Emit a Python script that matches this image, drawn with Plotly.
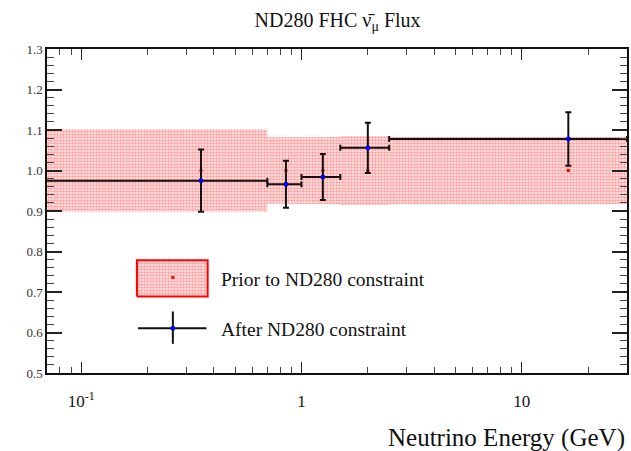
import plotly.graph_objects as go
import numpy as np

# ---------------- data ----------------
bin_edges = [0.0, 0.7, 1.0, 1.5, 2.5, 30.0]          # GeV
bin_centers = [0.35, 0.85, 1.25, 2.0, 16.25]        # GeV
prior_values = [1.0, 1.0, 1.0, 1.0, 1.0]
prior_errors = [0.102, 0.082, 0.083, 0.085, 0.083]
post_values = [0.975, 0.966, 0.984, 1.056, 1.078]
post_errors = [0.077, 0.058, 0.057, 0.062, 0.066]
x_tickvals = [0.1, 1, 10]
x_ticktext = ["10<sup>-1</sup>", "1", "10"]
y_tickvals = [0.5, 0.6, 0.7, 0.8, 0.9, 1.0, 1.1, 1.2, 1.3]
y_ticktext = ["0.5", "0.6", "0.7", "0.8", "0.9", "1.0", "1.1", "1.2", "1.3"]
title_text = "ND280 FHC ν\u0304<sub>μ</sub> Flux"
xlabel = "Neutrino Energy (GeV)"
legend_labels = ["Prior to ND280 constraint", "After ND280 constraint"]

SERIF = "Liberation Serif, Times New Roman, serif"
LOG_FLOOR = 0.01  # substitute for 0 on a log axis (clipped by range)

lo = [max(e, LOG_FLOOR) for e in bin_edges[:-1]]
hi = bin_edges[1:]

# band polygon (step shape)
bx, by_top, by_bot = [], [], []
for l, h, v, e in zip(lo, hi, prior_values, prior_errors):
    bx += [l, h]
    by_top += [v + e, v + e]
    by_bot += [v - e, v - e]
poly_x = bx + bx[::-1] + [bx[0]]
poly_y = by_top + by_bot[::-1] + [by_top[0]]

band_fill = dict(shape=".", fgcolor="rgba(255,0,0,0.7)", bgcolor="rgba(255,222,222,1)",
                 size=3, solidity=0.4)

fig = go.Figure()
fig.add_trace(go.Scatter(x=poly_x, y=poly_y, mode="lines", fill="toself",
                         line=dict(width=0, color="rgba(0,0,0,0)"),
                         fillcolor="rgba(255,180,180,1)", fillpattern=band_fill,
                         hoverinfo="skip", showlegend=False))
fig.add_trace(go.Scatter(x=bin_centers, y=prior_values, mode="markers",
                         marker=dict(color="red", size=3, symbol="square"),
                         showlegend=False))

xminus = [c - l for c, l in zip(bin_centers, lo)]
xplus = [h - c for c, h in zip(bin_centers, hi)]
fig.add_trace(go.Scatter(x=bin_centers, y=post_values, mode="markers",
                         marker=dict(color="blue", size=4, symbol="square"),
                         error_x=dict(type="data", symmetric=False, array=xplus,
                                      arrayminus=xminus, color="#111", thickness=2, width=3),
                         error_y=dict(type="data", array=post_errors, color="#111",
                                      thickness=2, width=3),
                         showlegend=False))

# ---- legend drawn in overlay axes (fractions of the plot area) ----
fig.add_trace(go.Scatter(x=[0.155, 0.277, 0.277, 0.155, 0.155],
                         y=[0.236, 0.236, 0.348, 0.348, 0.236],
                         mode="lines", fill="toself", line=dict(color="red", width=2),
                         fillcolor="rgba(255,180,180,1)", fillpattern=band_fill,
                         xaxis="x2", yaxis="y2", showlegend=False, hoverinfo="skip"))
fig.add_trace(go.Scatter(x=[0.217], y=[0.295], mode="markers",
                         marker=dict(color="red", size=3, symbol="square"),
                         xaxis="x2", yaxis="y2", showlegend=False))
fig.add_trace(go.Scatter(x=[0.157, 0.275], y=[0.138, 0.138], mode="lines",
                         line=dict(color="#111", width=2),
                         xaxis="x2", yaxis="y2", showlegend=False))
fig.add_trace(go.Scatter(x=[0.217, 0.217], y=[0.09, 0.19], mode="lines",
                         line=dict(color="#111", width=2),
                         xaxis="x2", yaxis="y2", showlegend=False))
fig.add_trace(go.Scatter(x=[0.217], y=[0.138], mode="markers",
                         marker=dict(color="blue", size=4, symbol="square"),
                         xaxis="x2", yaxis="y2", showlegend=False))
fig.add_annotation(text=legend_labels[0], x=0.296, y=0.29, xref="x2 domain", yref="y2 domain",
                   xanchor="left", yanchor="middle", showarrow=False,
                   font=dict(family=SERIF, size=19.5, color="#111"))
fig.add_annotation(text=legend_labels[1], x=0.296, y=0.135, xref="x2 domain", yref="y2 domain",
                   xanchor="left", yanchor="middle", showarrow=False,
                   font=dict(family=SERIF, size=19.5, color="#111"))

# axis title
fig.add_annotation(text=xlabel, x=1.0, y=-0.15, xref="paper", yref="paper",
                   xanchor="right", yanchor="top", showarrow=False,
                   font=dict(family=SERIF, size=25, color="#111"))

minor_x = [k * 10.0 ** e for e in range(-2, 2) for k in range(2, 10)
           if 0.07 <= k * 10.0 ** e <= 30]

fig.update_layout(
    width=631, height=451,
    margin=dict(l=47, r=2, t=49, b=78),
    paper_bgcolor="white", plot_bgcolor="white",
    title=dict(text=title_text, x=0.535, xanchor="center", y=0.955, yanchor="middle",
               font=dict(family=SERIF, size=20, color="#111")),
    xaxis=dict(type="log", range=[np.log10(0.07), np.log10(30)],
               tickmode="array", tickvals=x_tickvals, ticktext=x_ticktext,
               ticks="inside", ticklen=11, tickwidth=1, tickcolor="#222",
               ticklabelstandoff=12,
               showline=True, linecolor="#111", linewidth=1.5, mirror="ticks",
               showgrid=False, zeroline=False,
               tickfont=dict(family=SERIF, size=17, color="#111"),
               minor=dict(tickmode="array", tickvals=minor_x, ticks="inside",
                          ticklen=6, tickcolor="#444", tickwidth=1, showgrid=False)),
    yaxis=dict(range=[0.5, 1.3], tickmode="array", tickvals=y_tickvals, ticktext=y_ticktext,
               ticks="inside", ticklen=15, tickwidth=1.5, tickcolor="#222",
               showline=True, linecolor="#111", linewidth=1.5, mirror="ticks",
               showgrid=False, zeroline=False,
               tickfont=dict(family=SERIF, size=13, color="#333"),
               minor=dict(dtick=0.02, ticks="inside", ticklen=7, tickcolor="#444",
                          tickwidth=1, showgrid=False)),
    xaxis2=dict(overlaying="x", range=[0, 1], visible=False, fixedrange=True),
    yaxis2=dict(overlaying="y", range=[0, 1], visible=False, fixedrange=True),
    showlegend=False,
)

fig.write_html("out.html")
